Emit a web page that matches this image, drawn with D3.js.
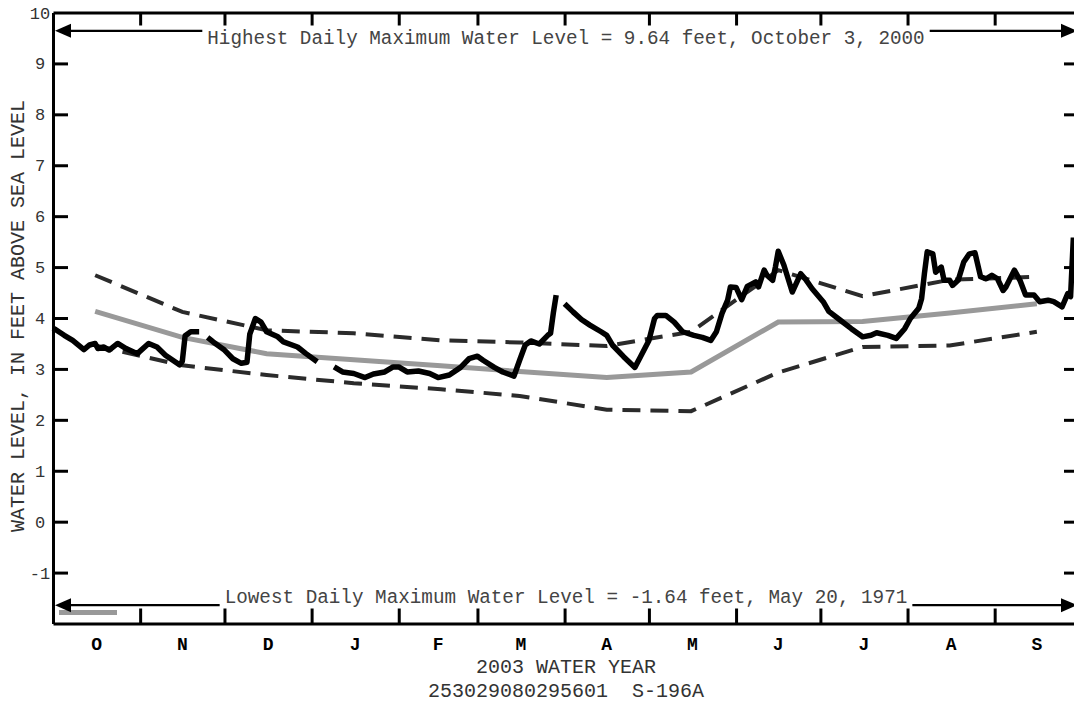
<!DOCTYPE html>
<html>
<head>
<meta charset="utf-8">
<script src="https://cdn.jsdelivr.net/npm/d3@7"></script>
<style>
  body { margin: 0; background: #ffffff; }
  svg { display: block; }
  text { font-family: "Liberation Mono", "Courier New", monospace; }
</style>
</head>
<body>
<svg id="chart" width="1074" height="704"></svg>
<script>
// ---- Data -------------------------------------------------------------
const monthLabels = ["O", "N", "D", "J", "F", "M", "A", "M", "J", "J", "A", "S"];
const yTickValues = [-1, 0, 1, 2, 3, 4, 5, 6, 7, 8, 9, 10];

// Monthly statistics, plotted at mid-month
const statDates = ["2002-10-16", "2002-11-16", "2002-12-16", "2003-01-16", "2003-02-16", "2003-03-16",
                   "2003-04-16", "2003-05-16", "2003-06-16", "2003-07-16", "2003-08-16", "2003-09-16"];
const upperFt  = [4.84, 4.12, 3.76, 3.70, 3.56, 3.52, 3.45, 3.73, 4.94, 4.43, 4.75, 4.81];
const medianFt = [4.13, 3.62, 3.30, 3.18, 3.06, 2.95, 2.83, 2.94, 3.92, 3.93, 4.10, 4.28];
const lowerFt  = [3.46, 3.07, 2.88, 2.72, 2.60, 2.47, 2.20, 2.17, 2.93, 3.43, 3.46, 3.73];

// Daily maximum water level, days counted from October 1, 2002 (null = missing record)
const levelDay = [
  0, 1, 4, 7, 11, 13, 15, 16, 18, 20, 23, 26, 30, 34, 37, 40, 45, 46, 47, 49, 52, 53,
  55, 57, 61, 64, 67, 69, 70, 72, 74, 76, 80, 82, 87, 90, 94, 97,
  100, 103, 107, 111, 114, 118, 121, 123, 126, 130, 134, 137, 141, 145, 148, 151, 153, 157,
  160, 164, 166, 168, 170, 173, 176, 177, 178, 179, 180,
  182, 185, 188, 191, 195, 197, 199, 203, 207, 209, 212, 214, 215, 218, 221, 224, 228, 231,
  234, 236, 238, 240, 241, 243, 245, 247, 250, 251, 253, 254, 256, 257, 258, 260, 263, 266,
  268, 270, 274, 276, 280, 284, 288, 291, 293, 297, 300, 303, 305, 308, 309, 310, 311, 313,
  314, 316, 317, 319, 320, 322, 324, 326, 328, 330, 332, 334, 336, 338, 339, 342, 344, 346,
  349, 351, 354, 356, 359, 361, 362, 363
];
const levelFt = [
  3.80, 3.77, 3.66, 3.56, 3.38, 3.47, 3.50, 3.40, 3.43, 3.37, 3.50, 3.40, 3.30, 3.50, 3.43, 3.27, 3.08, 3.15, 3.65, 3.73, 3.73, null,
  3.62, 3.53, 3.37, 3.20, 3.11, 3.13, 3.68, 3.99, 3.92, 3.73, 3.63, 3.53, 3.43, 3.30, 3.14, null,
  3.04, 2.94, 2.91, 2.83, 2.90, 2.94, 3.04, 3.04, 2.94, 2.96, 2.91, 2.83, 2.88, 3.03, 3.20, 3.25, 3.17, 3.03,
  2.94, 2.86, 3.17, 3.47, 3.55, 3.49, 3.66, 3.70, 4.10, 4.45, null,
  4.28, 4.12, 3.97, 3.86, 3.73, 3.66, 3.47, 3.24, 3.03, 3.24, 3.56, 3.99, 4.05, 4.05, 3.92, 3.73, 3.66, 3.62,
  3.56, 3.73, 4.09, 4.35, 4.61, 4.60, 4.36, 4.62, 4.71, 4.61, 4.94, 4.84, 4.74, 5.00, 5.31, 5.04, 4.51, 4.87,
  4.74, 4.58, 4.32, 4.13, 3.96, 3.79, 3.63, 3.66, 3.71, 3.66, 3.60, 3.79, 3.99, 4.19, 4.38, 4.87, 5.30, 5.26,
  4.90, 5.00, 4.74, 4.74, 4.64, 4.74, 5.10, 5.26, 5.28, 4.81, 4.77, 4.84, 4.77, 4.54, 4.61, 4.94, 4.74, 4.45,
  4.45, 4.32, 4.35, 4.32, 4.22, 4.48, 4.42, 5.58
];

const highestFt = 9.64;
const highestText = "Highest Daily Maximum Water Level = 9.64 feet, October 3, 2000";
const lowestFt = -1.64;
const lowestText = "Lowest Daily Maximum Water Level = -1.64 feet, May 20, 1971";
const xTitle = "2003 WATER YEAR";
const siteTitle = "253029080295601  S-196A";
const yTitle = "WATER LEVEL, IN FEET ABOVE SEA LEVEL";

// ---- Scales -----------------------------------------------------------
const svg = d3.select("#chart");
const start = new Date(Date.UTC(2002, 9, 1));
const end = new Date(Date.UTC(2003, 9, 1));
const plotLeft = 53, plotRight = 1079, plotTop = 12.5, plotBottom = 623.5;

const x = d3.scaleUtc().domain([start, end]).range([plotLeft, plotRight]);
const y = d3.scaleLinear().domain([-2, 10]).range([plotBottom, plotTop]);

const monthStarts = d3.utcMonth.range(start, end);
const parse = d3.utcParse("%Y-%m-%d");
const statX = statDates.map(parse);

// ---- Axes / frame -----------------------------------------------------
function styleAxis(g) {
  g.selectAll(".domain").attr("stroke", "#000").attr("stroke-width", 3);
  g.selectAll(".tick line").attr("stroke", "#000").attr("stroke-width", 3);
}

svg.append("g")
  .attr("transform", `translate(0,${plotBottom})`)
  .call(d3.axisBottom(x).tickValues(monthStarts.slice(1)).tickSize(-15).tickSizeOuter(0).tickFormat(""))
  .call(styleAxis);

svg.append("g")
  .attr("transform", `translate(0,${plotTop})`)
  .call(d3.axisTop(x).tickValues(monthStarts.slice(1)).tickSize(-13).tickSizeOuter(0).tickFormat(""))
  .call(styleAxis);

svg.append("g")
  .attr("transform", `translate(${plotLeft},0)`)
  .call(d3.axisLeft(y).tickValues(yTickValues.filter(v => v < 10)).tickSize(-15).tickSizeOuter(0).tickFormat(""))
  .call(styleAxis);

svg.append("g")
  .attr("transform", `translate(${plotRight},0)`)
  .call(d3.axisRight(y).tickValues(yTickValues.filter(v => v < 10)).tickSize(-15).tickSizeOuter(0).tickFormat(""))
  .call(styleAxis);

// y tick labels
svg.append("g").selectAll("text")
  .data(yTickValues)
  .join("text")
  .attr("x", 40)
  .attr("y", d => y(d) + 6)
  .attr("text-anchor", "middle")
  .attr("font-size", 17)
  .attr("fill", "#333")
  .text(d => d);

// month labels centred in each month
svg.append("g").selectAll("text")
  .data(monthStarts)
  .join("text")
  .attr("x", (d, i) => (x(d) + x(i < 11 ? monthStarts[i + 1] : end)) / 2)
  .attr("y", 650)
  .attr("text-anchor", "middle")
  .attr("font-size", 18)
  .attr("font-weight", "bold")
  .attr("fill", "#000")
  .text((d, i) => monthLabels[i]);

svg.append("text")
  .attr("x", (plotLeft + plotRight) / 2).attr("y", 673)
  .attr("text-anchor", "middle").attr("font-size", 20).attr("fill", "#333")
  .text(xTitle);

svg.append("text")
  .attr("x", (plotLeft + plotRight) / 2).attr("y", 697)
  .attr("text-anchor", "middle").attr("font-size", 20).attr("fill", "#333")
  .style("white-space", "pre")
  .text(siteTitle);

svg.append("text")
  .attr("transform", `translate(24,${(plotTop + plotBottom) / 2 - 2}) rotate(-90)`)
  .attr("text-anchor", "middle").attr("font-size", 20).attr("fill", "#333")
  .text(yTitle);

// ---- Statistic lines --------------------------------------------------
const statLine = d3.line().x((d, i) => x(statX[i])).y(d => y(d));

svg.append("path")
  .datum(medianFt)
  .attr("d", statLine)
  .attr("fill", "none")
  .attr("stroke", "#999999")
  .attr("stroke-width", 5);

[upperFt, lowerFt].forEach(series => {
  svg.append("path")
    .datum(series)
    .attr("d", statLine)
    .attr("fill", "none")
    .attr("stroke", "#2b2b2b")
    .attr("stroke-width", 4)
    .attr("stroke-dasharray", "18,10");
});

// ---- Daily water level ------------------------------------------------
const levelLine = d3.line()
  .defined(d => d[1] !== null)
  .x(d => x(d3.utcDay.offset(start, d[0])))
  .y(d => y(d[1]));

svg.append("path")
  .datum(levelDay.map((d, i) => [d, levelFt[i]]))
  .attr("d", levelLine)
  .attr("fill", "none")
  .attr("stroke", "#000")
  .attr("stroke-width", 5.5)
  .attr("stroke-linejoin", "round");

// legend swatch for the gray line
svg.append("rect")
  .attr("x", 59).attr("y", 610).attr("width", 58).attr("height", 5)
  .attr("fill", "#999999");

// ---- Period-of-record extremes ---------------------------------------
function recordArrow(value, label, textBelowLine) {
  const yy = y(value);
  const cx = (plotLeft + plotRight) / 2;
  const t = svg.append("text")
    .attr("x", cx)
    .attr("y", textBelowLine ? yy + 13 : yy - 2)
    .attr("text-anchor", "middle")
    .attr("font-size", 19.3)
    .attr("fill", "#444")
    .text(label);
  const w = t.node().getComputedTextLength();
  const g = svg.append("g").attr("stroke", "#000").attr("stroke-width", 2.2);
  g.append("line").attr("x1", plotLeft + 14).attr("x2", cx - w / 2 - 5).attr("y1", yy).attr("y2", yy);
  g.append("line").attr("x1", cx + w / 2 + 5).attr("x2", plotRight - 14).attr("y1", yy).attr("y2", yy);
  svg.append("path")
    .attr("d", `M${plotLeft + 2},${yy}L${plotLeft + 18},${yy - 7}L${plotLeft + 18},${yy + 7}Z`)
    .attr("fill", "#000");
  svg.append("path")
    .attr("d", `M${plotRight - 2},${yy}L${plotRight - 18},${yy - 7}L${plotRight - 18},${yy + 7}Z`)
    .attr("fill", "#000");
}
recordArrow(highestFt, highestText, true);
recordArrow(lowestFt, lowestText, false);
</script>
</body>
</html>
